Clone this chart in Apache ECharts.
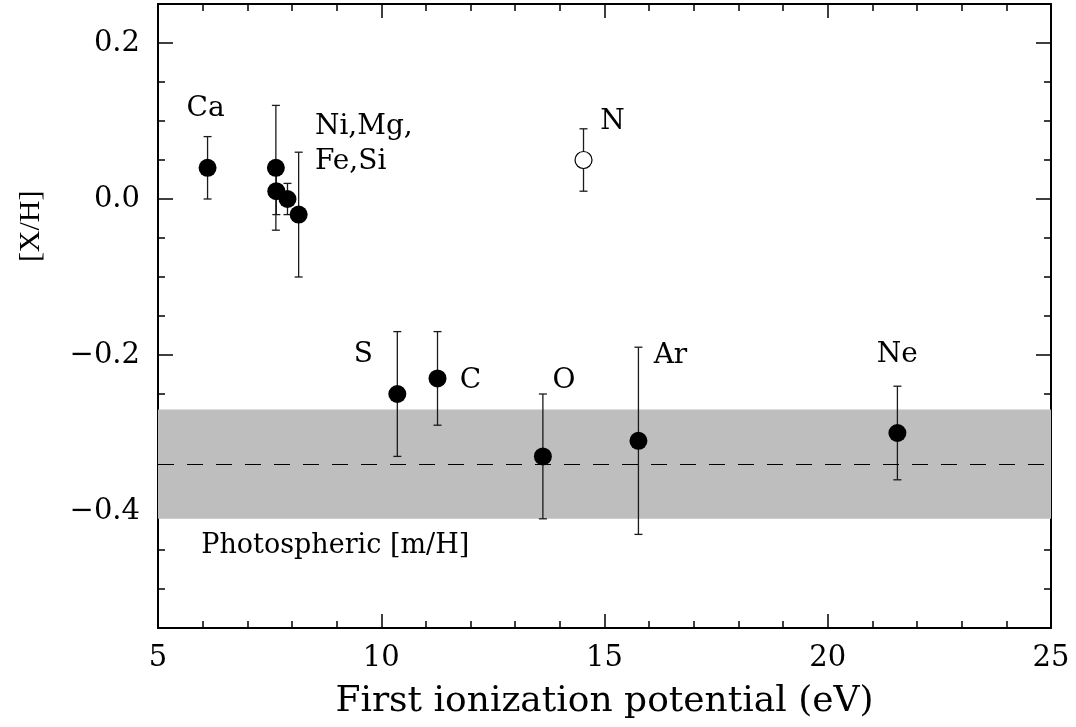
<!DOCTYPE html>
<html><head><meta charset="utf-8">
<script src="https://cdn.jsdelivr.net/npm/echarts@6/dist/echarts.min.js"></script>
<style>html,body{margin:0;padding:0;background:#fff}#c{width:1076px;height:727px}</style>
</head><body><div id="c"></div>
<script>
// ---- data ----
const elements     = ['Ca','Ni','Mg','Fe','Si','S','C','O','N','Ar','Ne'];
const fip          = [6.11, 7.64, 7.65, 7.90, 8.15, 10.36, 11.26, 13.62, 14.53, 15.76, 21.56];
const abundance    = [0.04, 0.04, 0.01, 0.00, -0.02, -0.25, -0.23, -0.33, 0.05, -0.31, -0.30];
const abundanceErr = [0.04, 0.08, 0.03, 0.02, 0.08, 0.08, 0.06, 0.08, 0.04, 0.12, 0.06];
const openElements = ['N'];
const pointLabels  = {Ca:'Ca', Ni:'Ni,Mg,\nFe,Si', S:'S', C:'C', O:'O', N:'N', Ar:'Ar', Ne:'Ne'};
const photoMean = -0.34;
const photoErr  = 0.07;
const photoLabel = 'Photospheric [m/H]';
const xTicks = [5, 10, 15, 20, 25];
const yMajorTicks = [-0.4, -0.2, 0.0, 0.2];
const yMinorTicks = [-0.5, -0.45, -0.35, -0.3, -0.25, -0.15, -0.1, -0.05, 0.05, 0.1, 0.15];
const xRange = [5, 25];
const yRange = [-0.55, 0.25];
const xTitle = 'First ionization potential (eV)';
const yTitle = '[X/H]';

// ---- styles (not data) ----
const labelStyle = {
  Ca: {offset:[-2,-59]},
  Ni: {offset:[39,-24], align:'left'},
  N:  {offset:[29,-38]},
  S:  {offset:[-34,-39]},
  C:  {offset:[33,2]},
  O:  {offset:[21,-76]},
  Ar: {offset:[32,-85]},
  Ne: {offset:[0,-78]}
};
const SERIF = '"DejaVu Serif", "Liberation Serif", serif';
const ink = '#000';

const chart = echarts.init(document.getElementById('c'), null, {renderer:'canvas'});

const pointData = elements.map((el, i) => {
  const open = openElements.includes(el);
  const item = {
    value: [fip[i], abundance[i]],
    symbolSize: open ? 17 : 18,
    itemStyle: open ? {color:'#fff', borderColor:ink, borderWidth:1.2, opacity:1} : {color:ink, opacity:1}
  };
  if (pointLabels[el]) {
    const st = labelStyle[el] || {offset:[0,0]};
    item.label = {
      show: true,
      formatter: pointLabels[el],
      position: 'inside',
      offset: st.offset,
      align: st.align || 'center',
      verticalAlign: 'middle',
      color: ink,
      opacity: 1,
      fontFamily: SERIF,
      fontSize: 28,
      lineHeight: 35
    };
  }
  return item;
});

const errData = elements.map((el, i) => [fip[i], abundance[i], abundanceErr[i]]);

const yFmt = v => (v < 0 ? '\u2212' : '') + Math.abs(v).toFixed(1);

function xAxisDef(pos, labels) {
  return {
    type:'value', position: pos, min: xRange[0], max: xRange[1], interval: 5,
    axisLine:{show:true, onZero:false, lineStyle:{color:ink, width:2}},
    axisTick:{show:true, inside:true, length:14, lineStyle:{color:ink, width:1.5}},
    minorTick:{show:true, splitNumber:5, length:7, lineStyle:{color:ink, width:1.5}},
    splitLine:{show:false}, minorSplitLine:{show:false},
    axisLabel: labels ? {show:true, color:ink, fontFamily:SERIF, fontSize:29, margin:16} : {show:false},
    name: labels ? xTitle : '', nameLocation:'middle', nameGap: 56,
    nameTextStyle:{color:ink, fontFamily:SERIF, fontSize:36}
  };
}
function yAxisDef(pos, values, len, labels, line) {
  return {
    type:'value', position: pos, min: yRange[0], max: yRange[1],
    axisLine:{show:line, onZero:false, lineStyle:{color:ink, width:2}},
    axisTick:{show:true, inside:true, length:len, customValues: values, lineStyle:{color:ink, width:1.5}},
    splitLine:{show:false},
    axisLabel: labels ? {show:true, customValues: values, formatter: yFmt, color:ink, fontFamily:SERIF, fontSize:29, margin:18} : {show:false}
  };
}

const option = {
  animation:false,
  backgroundColor:'#fff',
  grid:{left:158, right:25, top:4, bottom:99, containLabel:false, outerBoundsMode:'none'},
  xAxis:[ xAxisDef('bottom', true), xAxisDef('top', false) ],
  yAxis:[
    yAxisDef('left', yMajorTicks, 15, true, true),
    yAxisDef('left', yMinorTicks, 7, false, false),
    yAxisDef('right', yMajorTicks, 15, false, true),
    yAxisDef('right', yMinorTicks, 7, false, false)
  ],
  series:[
    {
      type:'custom', name:'band', xAxisIndex:0, yAxisIndex:0, z:1,
      data: [], renderItem: () => null,
      markArea:{ silent:true, itemStyle:{color:'#bebebe', opacity:1},
        data:[[{yAxis: photoMean + photoErr},{yAxis: photoMean - photoErr}]] },
      markLine:{ silent:true, symbol:['none','none'], label:{show:false},
        lineStyle:{color:ink, width:1.2, type:[16,13], opacity:1},
        data:[{yAxis: photoMean}] }
    },
    {
      type:'custom', name:'errors', xAxisIndex:0, yAxisIndex:0, z:3,
      encode:{x:0, y:1},
      data: errData,
      renderItem: function(params, api){
        const x = api.value(0), y = api.value(1), e = api.value(2);
        const t = api.coord([x, y + e]);
        const b = api.coord([x, y - e]);
        const c = 4;
        const st = {stroke:'#1a1a1a', lineWidth:1.3};
        return {type:'group', children:[
          {type:'line', shape:{x1:t[0], y1:t[1], x2:b[0], y2:b[1]}, style:st},
          {type:'line', shape:{x1:t[0]-c, y1:t[1], x2:t[0]+c, y2:t[1]}, style:st},
          {type:'line', shape:{x1:b[0]-c, y1:b[1], x2:b[0]+c, y2:b[1]}, style:st}
        ]};
      }
    },
    {
      type:'scatter', name:'points', xAxisIndex:0, yAxisIndex:0, z:5,
      symbol:'circle', itemStyle:{opacity:1}, data: pointData
    }
  ]
};
chart.setOption(option);

// annotation texts placed through the chart's own coordinate conversion
const photoPos = chart.convertToPixel({xAxisIndex:0, yAxisIndex:0}, [8.97, photoMean - photoErr - 0.035]);
const yTitleY = chart.convertToPixel({yAxisIndex:0}, -0.035);
chart.setOption({
  graphic:[
    {type:'text', x: photoPos[0], y: photoPos[1], silent:true,
      style:{text: photoLabel, fill:ink, font:'27px ' + SERIF, textAlign:'center', textVerticalAlign:'middle'}},
    {type:'text', x: 31, y: yTitleY, rotation: Math.PI/2, silent:true,
      style:{text: yTitle, fill:ink, font:'30px "Liberation Serif", serif', textAlign:'center', textVerticalAlign:'middle'}}
  ]
});
</script>
</body></html>
